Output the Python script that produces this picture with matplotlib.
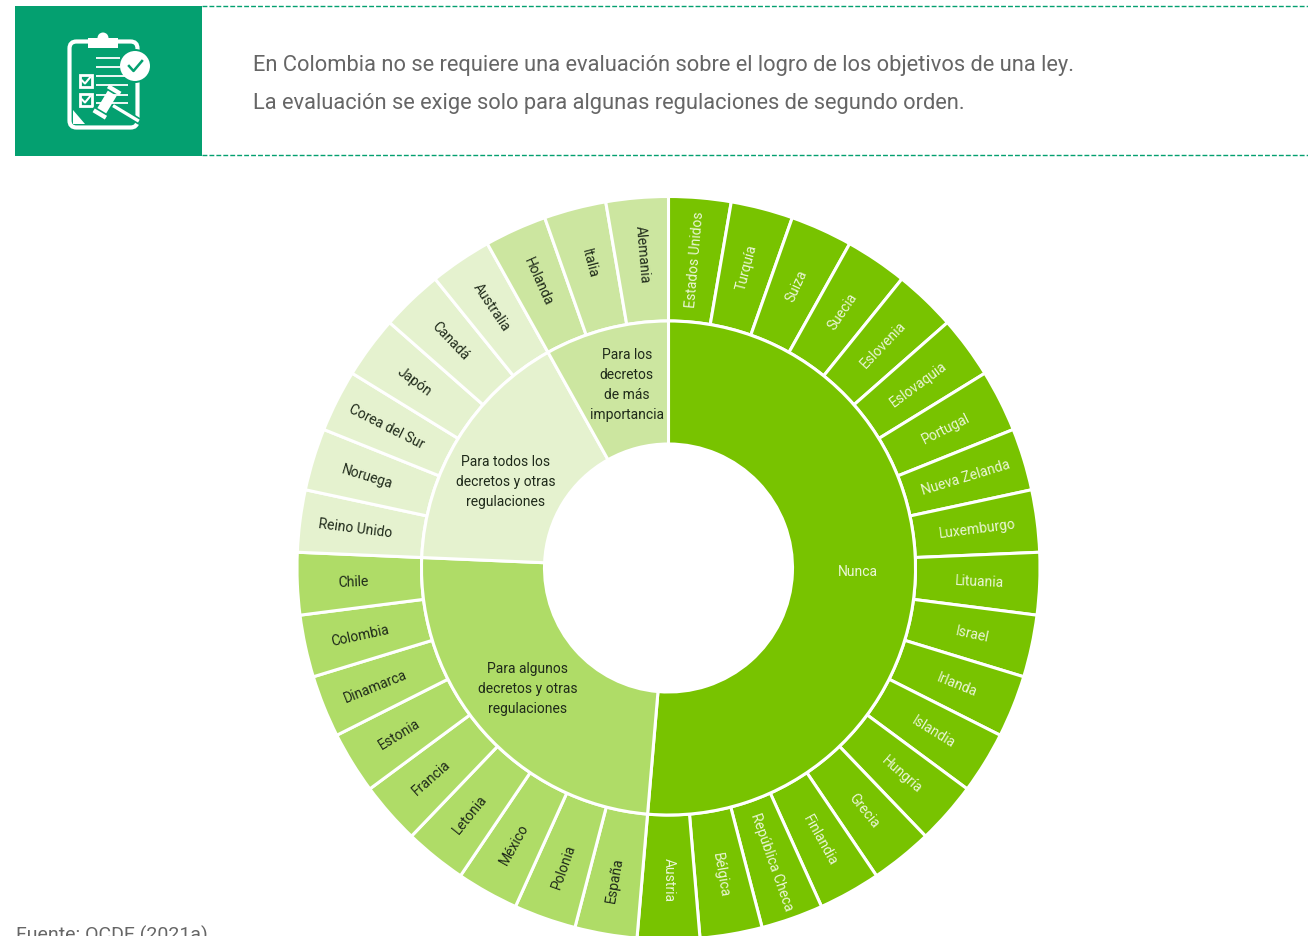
import numpy as np
import matplotlib
matplotlib.use('Agg')
import matplotlib.pyplot as plt
from matplotlib.patches import Rectangle, FancyBboxPatch, Circle, Polygon
from matplotlib.transforms import Affine2D

W, H = 1308, 937

# inner ring, clockwise from the top
groups = ['Nunca', 'Para algunos\ndecretos y otras\nregulaciones',
          'Para todos los\ndecretos y otras\nregulaciones',
          'Para los\ndecretos\nde más\nimportancia']
nunca = ['Estados Unidos', 'Turquía', 'Suiza', 'Suecia', 'Eslovenia', 'Eslovaquia',
         'Portugal', 'Nueva Zelanda', 'Luxemburgo', 'Lituania', 'Israel', 'Irlanda',
         'Islandia', 'Hungría', 'Grecia', 'Finlandia', 'República Checa', 'Bélgica', 'Austria']
algunos = ['España', 'Polonia', 'México', 'Letonia', 'Francia', 'Estonia',
           'Dinamarca', 'Colombia', 'Chile']
todos = ['Reino Unido', 'Noruega', 'Corea del Sur', 'Japón', 'Canadá', 'Australia']
mas = ['Holanda', 'Italia', 'Alemania']
members = [nunca, algunos, todos, mas]
group_colors = ['#78C300', '#AFDC67', '#E5F2CF', '#CCE6A0']
text_colors = ['#EAF6D6', '#1F2A1A', '#1F2A1A', '#1F2A1A']

CX, CY = 668.5, H - 569
R_OUT, R_MID, R_HOLE = 371.5, 247, 124
# small nudges of the group captions, in pixels
group_nudge = [(5, 5), (-2, 2), (-5, -10), (5, 5)]

plt.rcParams['font.family'] = ['Roboto', 'DejaVu Sans']

fig = plt.figure(figsize=(W / 100, H / 100), dpi=100)
ax = fig.add_axes([0, 0, 1, 1])

sizes = [len(m) for m in members]
leaf_sizes = [1] * sum(sizes)
leaf_colors = [c for c, n in zip(group_colors, sizes) for _ in range(n)]
edge = dict(edgecolor='white', linewidth=2.2)

ax.pie(leaf_sizes, colors=leaf_colors, startangle=90, counterclock=False,
       center=(CX, CY), radius=R_OUT, frame=False,
       wedgeprops=dict(width=R_OUT - R_MID, **edge))
ax.pie(sizes, colors=group_colors, startangle=90, counterclock=False,
       center=(CX, CY), radius=R_MID, frame=False,
       wedgeprops=dict(width=R_MID - R_HOLE, **edge))
ax.set_xlim(0, W)
ax.set_ylim(0, H)
ax.set_aspect('equal')
ax.axis('off')

# labels
step = 360 / sum(sizes)
i = 0
for g, names in enumerate(members):
    a0 = i * step
    for name in names:
        cw = (i + 0.5) * step
        ang = np.radians(90 - cw)
        rot = 90 - cw
        r = 311
        if np.cos(ang) < -1e-9:
            rot += 180
            r = 315.5
        ax.text(CX + r * np.cos(ang), CY + r * np.sin(ang), name, rotation=rot,
                rotation_mode='anchor', ha='center', va='center',
                fontsize=10, color=text_colors[g])
        i += 1
    mid = np.radians(90 - (a0 + i * step) / 2)
    dx, dy = group_nudge[g]
    ax.text(CX + 185 * np.cos(mid) + dx, CY + 185 * np.sin(mid) + dy, groups[g],
            ha='center', va='center', multialignment='center', linespacing=1.56,
            fontsize=10, color=text_colors[g])

# header band
GREEN = '#04A070'


def yp(y):
    return H - y


ax.add_patch(Rectangle((15, yp(157)), 187, 150, fc=GREEN, ec='none'))
ax.plot([202, W], [yp(7), yp(7)], color=GREEN, lw=1, dashes=(3.5, 1.5))
ax.plot([202, W], [yp(156), yp(156)], color=GREEN, lw=1, dashes=(3.5, 1.5))
ax.text(253, yp(65), 'En Colombia no se requiere una evaluación sobre el logro de los objetivos de una ley.',
        fontsize=15.76, color='#666666', va='center', ha='left')
ax.text(253, yp(103.5), 'La evaluación se exige solo para algunas regulaciones de segundo orden.',
        fontsize=15.76, color='#666666', va='center', ha='left')
ax.text(16, yp(935), 'Fuente: OCDE (2021a)', fontsize=14, color='#666666', va='center', ha='left')

# clipboard icon
ax.add_patch(FancyBboxPatch((71.5, yp(126.5)), 64, 82, boxstyle='round,pad=2,rounding_size=7',
                            fc='none', ec='white', lw=3))
ax.add_patch(Circle((103, yp(39)), 5.5, fc='white', ec='none'))
ax.add_patch(Rectangle((88, yp(49)), 30, 10, fc='white', ec='none'))
ax.add_patch(Polygon([(73, yp(111)), (73, yp(125)), (85, yp(125))], fc='white', ec='none'))
for yy, x1 in [(59, 120), (68, 120), (77, 128), (86, 128), (96, 128), (104, 128)]:
    ax.plot([96, x1], [yp(yy), yp(yy)], color='white', lw=1.3, solid_capstyle='butt')
ax.add_patch(Circle((135, yp(67)), 17, fc=GREEN, ec='none'))
ax.add_patch(Circle((135, yp(67)), 15, fc='white', ec='none'))
ax.plot([129, 133.5, 142], [yp(67), yp(72), yp(62)], color=GREEN, lw=1.8)
for yy in (81.5, 100.5):
    ax.add_patch(Rectangle((79.5, yp(yy + 6)), 12, 12, fc='none', ec='white', lw=2))
    ax.plot([82, 85, 90], [yp(yy), yp(yy + 3), yp(yy - 3)], color='white', lw=1.5)
# gavel
gavel = Affine2D().rotate_deg(-31).translate(107, yp(103)) + ax.transData
for x0, y0, w, h in [(6, -2.5, 32, 5), (-6, -12, 12, 24), (-8, -17, 16, 6), (-8, 11, 16, 6)]:
    ax.add_patch(Rectangle((x0, y0), w, h, fc='white', ec=GREEN, lw=1.2, transform=gavel))

fig.savefig('out.png', dpi=100)
